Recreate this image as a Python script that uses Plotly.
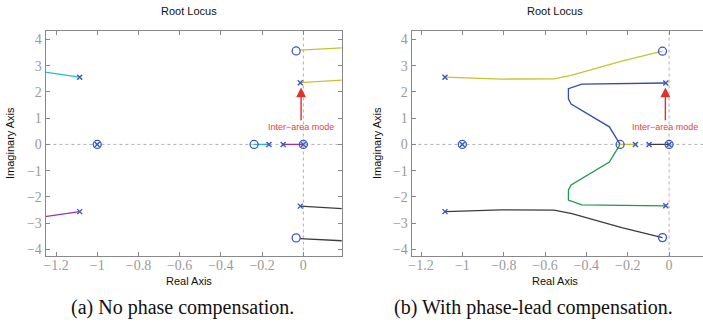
import plotly.graph_objects as go

# ---------------- data ----------------
x_ticks = [-1.2, -1.0, -0.8, -0.6, -0.4, -0.2, 0.0]
x_tick_text = ["\u22121.2", "\u22121", "\u22120.8", "\u22120.6", "\u22120.4", "\u22120.2", "0"]
y_ticks = [-4, -3, -2, -1, 0, 1, 2, 3, 4]
y_tick_text = ["\u22124", "\u22123", "\u22122", "\u22121", "0", "1", "2", "3", "4"]

# Panel (a): no phase compensation
a_cyan_up_x = [-1.26, -1.085]
a_cyan_up_y = [2.76, 2.56]
a_mag_dn_x = [-1.26, -1.085]
a_mag_dn_y = [-2.76, -2.56]
a_cyan_re_x = [-0.239, -0.167]
a_cyan_re_y = [0, 0]
a_mag_re_x = [-0.098, 0.0]
a_mag_re_y = [0, 0]
a_yel_top_x = [-0.016, 0.19]
a_yel_top_y = [3.59, 3.68]
a_yel_mid_x = [-0.015, 0.19]
a_yel_mid_y = [2.35, 2.45]
a_gry_mid_x = [-0.015, 0.19]
a_gry_mid_y = [-2.35, -2.45]
a_gry_bot_x = [-0.016, 0.19]
a_gry_bot_y = [-3.59, -3.67]
a_poles_x = [-1.085, -1.085, -0.167, -0.098, -0.015, -0.015, 0.0, -1.0]
a_poles_y = [2.56, -2.56, 0, 0, 2.35, -2.35, 0, 0]
a_zeros_x = [-1.0, -0.239, 0.0, -0.035, -0.035]
a_zeros_y = [0, 0, 0, 3.56, -3.56]

# Panel (b): with phase-lead compensation
b_yel_x = [-1.084, -0.81, -0.556, -0.47, -0.229, -0.032]
b_yel_y = [2.56, 2.49, 2.50, 2.64, 3.17, 3.55]
b_gry_x = [-1.084, -0.81, -0.556, -0.47, -0.229, -0.032]
b_gry_y = [-2.56, -2.49, -2.50, -2.64, -3.17, -3.55]
b_blu_x = [-0.016, -0.422, -0.487, -0.487, -0.474, -0.289, -0.237]
b_blu_y = [2.34, 2.30, 2.12, 1.74, 1.54, 0.67, 0.0]
b_grn_x = [-0.016, -0.422, -0.487, -0.487, -0.474, -0.289, -0.237]
b_grn_y = [-2.34, -2.30, -2.12, -1.74, -1.54, -0.67, 0.0]
b_yel_re_x = [-0.237, -0.163]
b_yel_re_y = [0, 0]
b_gry_re_x = [-0.097, 0.0]
b_gry_re_y = [0, 0]
b_poles_x = [-1.084, -1.084, -0.016, -0.016, -0.163, -0.097, 0.0, -1.0]
b_poles_y = [2.56, -2.56, 2.34, -2.34, 0, 0, 0, 0]
b_zeros_x = [-0.032, -0.032, -0.237, 0.0, -1.0]
b_zeros_y = [3.55, -3.55, 0, 0, 0]

arrow_label = "Inter\u2212area mode"

# ---------------- styles ----------------
CYAN = "#22bcc4"
MAG = "#a0309c"
YEL = "#c4c42c"
GRY = "#3c3c3c"
BLU = "#2f4fb0"
GRN = "#1f9a4a"
MARK = "#3a58c0"
RED = "#e0302c"
LW = 1.3

fig = go.Figure()


def line(x, y, color, ax):
    fig.add_trace(go.Scatter(x=x, y=y, mode="lines", line=dict(color=color, width=LW),
                             xaxis=ax[0], yaxis=ax[1], showlegend=False, hoverinfo="skip"))


def poles(x, y, ax):
    fig.add_trace(go.Scatter(x=x, y=y, mode="markers",
                             marker=dict(symbol="x-thin", size=5, line=dict(color=MARK, width=1.4)),
                             xaxis=ax[0], yaxis=ax[1], showlegend=False, hoverinfo="skip"))


def zeros(x, y, ax):
    fig.add_trace(go.Scatter(x=x, y=y, mode="markers",
                             marker=dict(symbol="circle-open", size=8, color=MARK, line=dict(width=1.3)),
                             xaxis=ax[0], yaxis=ax[1], showlegend=False, hoverinfo="skip"))


A = ("x", "y")
B = ("x2", "y2")

# dotted axis lines
for ax in (A, B):
    fig.add_trace(go.Scatter(x=[-1.3, 0.25], y=[0, 0], mode="lines",
                             line=dict(color="#b0b0b0", width=1, dash="dot"),
                             xaxis=ax[0], yaxis=ax[1], showlegend=False, hoverinfo="skip"))
    fig.add_trace(go.Scatter(x=[0, 0], y=[-4.5, 4.5], mode="lines",
                             line=dict(color="#b0b0b0", width=1, dash="dot"),
                             xaxis=ax[0], yaxis=ax[1], showlegend=False, hoverinfo="skip"))

line(a_cyan_up_x, a_cyan_up_y, CYAN, A)
line(a_mag_dn_x, a_mag_dn_y, MAG, A)
line(a_cyan_re_x, a_cyan_re_y, CYAN, A)
line(a_mag_re_x, a_mag_re_y, MAG, A)
line(a_yel_top_x, a_yel_top_y, YEL, A)
line(a_yel_mid_x, a_yel_mid_y, YEL, A)
line(a_gry_mid_x, a_gry_mid_y, GRY, A)
line(a_gry_bot_x, a_gry_bot_y, GRY, A)
poles(a_poles_x, a_poles_y, A)
zeros(a_zeros_x, a_zeros_y, A)

line(b_yel_x, b_yel_y, YEL, B)
line(b_gry_x, b_gry_y, GRY, B)
line(b_blu_x, b_blu_y, BLU, B)
line(b_grn_x, b_grn_y, GRN, B)
line(b_yel_re_x, b_yel_re_y, YEL, B)
line(b_gry_re_x, b_gry_re_y, GRY, B)
poles(b_poles_x, b_poles_y, B)
zeros(b_zeros_x, b_zeros_y, B)

W, H = 703, 326
yd = [1 - 256 / H, 1 - 31 / H]

tickfont = dict(family="Liberation Serif", size=14, color="#9a9a9a")
common_x = dict(range=[-1.25, 0.186], tickvals=x_ticks, ticktext=x_tick_text, ticks="inside",
                ticklen=4, tickcolor="#888888", showline=True, linecolor="#888888", linewidth=1.2,
                showgrid=False, zeroline=False, tickfont=tickfont, automargin=False,
                ticklabelstandoff=-4)
common_y = dict(range=[-4.25, 4.32], tickvals=y_ticks, ticktext=y_tick_text, ticks="inside",
                ticklen=4, tickcolor="#888888", showline=True, linecolor="#888888", linewidth=1.2,
                showgrid=False, zeroline=False, tickfont=tickfont, domain=yd, automargin=False)

fig.update_layout(
    width=W, height=H, margin=dict(l=0, r=0, t=0, b=0, autoexpand=False),
    paper_bgcolor="white", plot_bgcolor="white",
    xaxis=dict(common_x, domain=[45.7 / W, 341.7 / W], mirror="ticks", anchor="y"),
    yaxis=dict(common_y, mirror="ticks", anchor="x"),
    xaxis2=dict(common_x, domain=[411.7 / W, 1.0], mirror="ticks", anchor="y2",
                range=[-1.245, 0.164]),
    yaxis2=dict(common_y, mirror=False, anchor="x2"),
)

ann = []
sans = "Liberation Sans"
for xr, yr, cx, title_x, ylab_x, xlab_x, cap_x, cap in (
        ("x", "y", -0.011, 189, 10, 189, 182, "(a) No phase compensation."),
        ("x2", "y2", -0.018, 555, 377, 555, 533, "(b) With phase-lead compensation.")):
    ann.append(dict(x=cx, y=2.17, ax=cx, ay=0.86, xref=xr, yref=yr, axref=xr, ayref=yr,
                    showarrow=True, arrowhead=2, arrowsize=1.4, arrowwidth=1.4, arrowcolor=RED, text=""))
    ann.append(dict(x=cx, y=0.68, xref=xr, yref=yr, text=arrow_label, showarrow=False,
                    xanchor="center", yanchor="middle",
                    font=dict(family=sans, size=9, color="#e8403c")))
    ann.append(dict(x=title_x / W, y=1 - 11 / H, xref="paper", yref="paper", text="Root Locus",
                    xanchor="center", yanchor="middle", showarrow=False,
                    font=dict(family=sans, size=11, color="#111")))
    ann.append(dict(x=xlab_x / W, y=1 - 281 / H, xref="paper", yref="paper", text="Real Axis",
                    xanchor="center", yanchor="middle", showarrow=False,
                    font=dict(family=sans, size=11, color="#111")))
    ann.append(dict(x=ylab_x / W, y=1 - 143 / H, xref="paper", yref="paper", text="Imaginary Axis",
                    xanchor="center", yanchor="middle", textangle=-90, showarrow=False,
                    font=dict(family=sans, size=11, color="#111")))
    ann.append(dict(x=cap_x / W, y=1 - 307 / H, xref="paper", yref="paper", text=cap,
                    xanchor="center", yanchor="middle", showarrow=False,
                    font=dict(family="Liberation Serif", size=20, color="#111")))
fig.update_layout(annotations=ann)

fig.write_html("out.html", config={"displayModeBar": False},
               post_script="document.body.style.margin='0';document.body.style.overflow='hidden';")
